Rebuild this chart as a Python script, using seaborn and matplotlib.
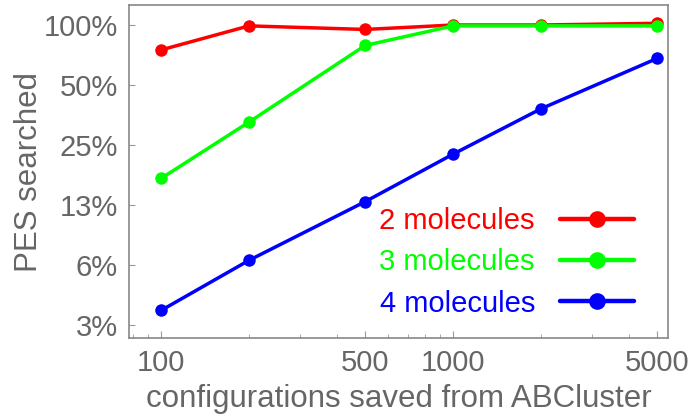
import numpy as np
import pandas as pd
import matplotlib
matplotlib.use("Agg")
import matplotlib.pyplot as plt
import seaborn as sns
from matplotlib.ticker import FixedLocator, NullFormatter, FixedFormatter
from matplotlib.lines import Line2D

configs = [100, 200, 500, 1000, 2000, 5000]
two_mol = [75, 99, 95, 100, 100, 102]
three_mol = [17, 32.6, 79, 99, 99, 99]
four_mol = [3.7, 6.6, 13, 22.5, 38, 68]
series_names = ["2 molecules", "3 molecules", "4 molecules"]
colors = ["#ff0000", "#00ff00", "#0000ff"]
ytick_vals = [3.125, 6.25, 12.5, 25, 50, 100]
ytick_labels = ["3%", "6%", "13%", "25%", "50%", "100%"]
xtick_vals = [100, 500, 1000, 5000]
xtick_labels = ["100", "500", "1000", "5000"]

rows = []
for name, vals in zip(series_names, [two_mol, three_mol, four_mol]):
    for c, v in zip(configs, vals):
        rows.append({"configs": c, "pct": v, "series": name})
df = pd.DataFrame(rows)

sns.set_theme(style="white")
plt.rcParams['font.family'] = ['Liberation Sans', 'DejaVu Sans']
grey = "#666666"

fig = plt.figure(figsize=(6.92, 4.18), dpi=100)
ax = fig.add_axes([129/692, 1 - 338/418, (668-129)/692, (338-5)/418])

sns.lineplot(data=df, x="configs", y="pct", hue="series",
             palette=dict(zip(series_names, colors)), marker="o",
             markersize=9, markeredgewidth=0, linewidth=2.5, ax=ax, legend=False)

ax.set_xscale("log")
ax.set_yscale("log")
ax.set_xlim(77.6, 5445)
ax.set_ylim(2.69, 126)

ax.xaxis.set_major_locator(FixedLocator(xtick_vals))
ax.xaxis.set_major_formatter(FixedFormatter(xtick_labels))
minor_x = [80, 90, 200, 300, 400, 600, 700, 800, 900, 2000, 3000, 4000]
ax.xaxis.set_minor_locator(FixedLocator(minor_x))
ax.xaxis.set_minor_formatter(NullFormatter())
ax.yaxis.set_major_locator(FixedLocator(ytick_vals))
ax.yaxis.set_major_formatter(FixedFormatter(ytick_labels))
ax.yaxis.set_minor_locator(FixedLocator([]))

ax.tick_params(axis="x", which="major", direction="in", length=5, width=0.8,
               color="#999999", labelsize=21, labelcolor=grey, pad=8, bottom=True)
ax.tick_params(axis="x", which="minor", direction="in", length=3, width=0.6,
               color="#999999", bottom=True)
ax.tick_params(axis="y", which="major", direction="in", length=4, width=0.8,
               color="#999999", labelsize=21, labelcolor=grey, pad=8, left=True)

for s in ax.spines.values():
    s.set_color("#888888")
    s.set_linewidth(1.2)
    s.set_visible(True)

ax.set_xlabel("configurations saved from ABCluster", fontsize=22.5, color=grey, labelpad=5)
ax.set_ylabel("PES searched", fontsize=22.5, color=grey, labelpad=0)

handles = [Line2D([0], [0], color=c, marker="o", markersize=12, markeredgewidth=0, linewidth=3.2)
           for c in colors]
leg = ax.legend(handles, series_names, loc="lower right", markerfirst=False, frameon=False,
                fontsize=21, handlelength=2.55, labelspacing=0.45, labelcolor=colors,
                bbox_to_anchor=(0.975, 0.0), handletextpad=0.85, borderpad=0.2)

fig.savefig("out.png", dpi=100, facecolor="white")
